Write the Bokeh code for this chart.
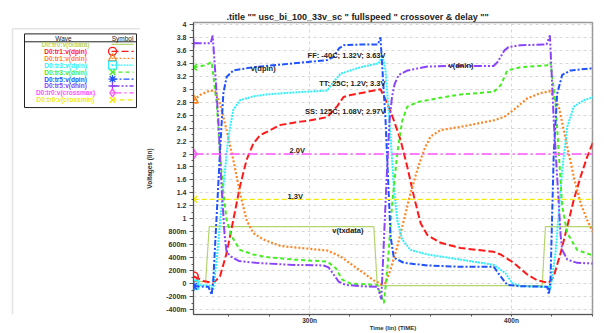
from bokeh.plotting import figure
from bokeh.models import FixedTicker, Range1d, Title
from bokeh.layouts import row
from bokeh.embed import file_html
from bokeh.resources import INLINE
from bokeh.core.properties import value

# ---------------- data (time in ns, voltage in V) ----------------
t_txdata = [242.6, 248.5, 250.3, 331.8, 333.5, 415.2, 416.8, 440.6]
v_txdata = [0.03, 0.03, 0.88, 0.88, -0.03, -0.03, 0.88, 0.88]

t_ss_dpin = [242.6, 247.4, 252.3, 255.6, 258.9, 262.2, 265.5, 268.8, 272.1, 275.4, 278.7, 285.6,
             295.5, 300.5, 308.8, 313.7, 316.8, 320.3, 328.6, 335.1, 338.5, 341.7, 345.0, 348.4,
             351.7, 355.0, 358.3, 364.9, 374.8, 391.2, 394.6, 401.1, 407.8, 412.7, 418.5, 420.9,
             424.3, 427.6, 430.8, 434.2, 437.5, 440.6]
v_ss_dpin = [0.11, 0.04, 0.01, 0.11, 0.47, 0.98, 1.50, 1.91, 2.16, 2.29, 2.34, 2.45,
             2.50, 2.52, 2.57, 2.74, 2.88, 2.91, 2.96, 3.00, 2.78, 2.52, 2.22, 1.80,
             1.34, 0.93, 0.75, 0.63, 0.55, 0.49, 0.45, 0.32, 0.14, 0.05, 0.01, 0.11,
             0.47, 0.88, 1.29, 1.65, 1.96, 2.20]

t_ss_dnin = [242.6, 245.7, 250.6, 253.2, 255.6, 258.9, 262.2, 265.5, 268.8, 272.1, 277.1, 285.6,
             295.5, 308.8, 315.3, 321.9, 326.9, 331.8, 335.6, 337.6, 340.1, 343.4, 346.7, 350.0,
             353.3, 356.6, 359.9, 364.9, 374.8, 391.2, 396.2, 401.1, 407.8, 414.4, 419.3, 423.4,
             427.6, 430.8, 434.2, 437.5, 440.6]
v_ss_dnin = [2.83, 2.91, 2.98, 2.97, 2.78, 2.37, 1.91, 1.40, 0.98, 0.78, 0.68, 0.58,
             0.55, 0.51, 0.42, 0.27, 0.16, 0.05, -0.01, 0.01, 0.22, 0.57, 0.98, 1.40,
             1.75, 2.06, 2.27, 2.37, 2.42, 2.52, 2.57, 2.68, 2.86, 2.94, 2.97, 2.73,
             2.11, 1.65, 1.24, 0.98, 0.78]

t_tt_dpin = [242.6, 250.6, 252.3, 254.0, 257.3, 259.8, 262.2, 265.5, 272.1, 278.7, 292.2, 308.8,
             311.2, 315.3, 325.2, 334.2, 336.1, 337.6, 340.1, 341.7, 343.4, 345.9, 350.0, 358.3,
             374.8, 391.2, 397.0, 400.3, 404.5, 418.5, 419.3, 421.8, 425.1, 427.6, 430.8, 435.8,
             440.6]
v_tt_dpin = [-0.02, -0.03, -0.09, 0.37, 1.50, 2.27, 2.68, 2.83, 2.89, 2.92, 2.95, 2.98,
             3.09, 3.24, 3.34, 3.40, 3.52, 3.29, 2.27, 1.50, 0.98, 0.68, 0.52, 0.45,
             0.37, 0.29, 0.16, 0.01, -0.04, -0.05, -0.09, 0.48, 1.75, 2.42, 2.73, 2.83,
             2.88]

t_tt_dnin = [242.6, 248.5, 251.5, 254.0, 255.6, 257.3, 258.9, 261.4, 265.5, 272.1, 278.7, 292.2,
             308.8, 312.9, 316.2, 320.3, 333.5, 336.8, 338.5, 340.9, 343.4, 345.9, 348.4, 353.3,
             363.2, 374.8, 391.2, 394.6, 397.9, 404.5, 417.7, 419.3, 421.8, 423.4, 425.1, 427.6,
             432.5, 440.6]
v_tt_dnin = [3.34, 3.37, 3.42, 2.78, 2.01, 1.40, 0.98, 0.73, 0.52, 0.45, 0.41, 0.37,
             0.34, 0.24, 0.06, 0.00, -0.02, -0.30, 0.22, 1.24, 2.01, 2.52, 2.73, 2.80,
             2.86, 2.92, 2.96, 3.06, 3.29, 3.34, 3.37, 3.42, 2.78, 2.01, 1.19, 0.78,
             0.52, 0.43]

t_ff_dpin = [242.6, 249.9, 251.5, 252.3, 255.6, 257.3, 258.9, 262.2, 272.1, 292.2, 308.8, 312.0,
             314.5, 317.0, 325.2, 333.8, 335.1, 337.6, 340.1, 341.7, 346.7, 358.3, 374.8, 391.2,
             394.6, 397.9, 404.5, 417.7, 418.5, 419.3, 420.9, 422.6, 425.1, 429.2, 439.1, 440.6]
v_ff_dpin = [-0.04, -0.05, -0.17, 0.06, 2.02, 2.94, 3.19, 3.29, 3.34, 3.40, 3.45, 3.50,
             3.63, 3.68, 3.69, 3.69, 3.80, 2.52, 0.73, 0.40, 0.32, 0.28, 0.26, 0.26,
             0.11, -0.02, -0.04, -0.05, -0.17, 0.06, 2.01, 2.93, 3.22, 3.29, 3.32, 3.32]

t_ff_dnin = [242.6, 251.0, 252.0, 253.2, 254.8, 256.4, 257.9, 258.9, 260.9, 264.9, 273.3, 290.6,
             306.9, 309.4, 311.9, 314.4, 317.8, 325.2, 333.7, 335.5, 336.6, 338.1, 339.6, 340.8,
             342.1, 344.1, 348.5, 358.4, 369.8, 391.1, 393.1, 394.6, 396.5, 398.5, 404.5, 417.3,
             419.0, 419.8, 420.9, 422.9, 424.3, 425.1, 427.6, 432.5, 440.6]
v_ff_dnin = [3.71, 3.71, 3.83, 3.29, 2.52, 1.49, 0.75, 0.49, 0.42, 0.35, 0.32, 0.29,
             0.28, 0.25, 0.14, 0.03, -0.02, -0.04, -0.05, -0.24, 0.52, 1.60, 2.52, 2.88,
             3.08, 3.22, 3.29, 3.35, 3.36, 3.36, 3.42, 3.50, 3.60, 3.65, 3.68, 3.69,
             3.83, 3.29, 2.52, 1.49, 0.75, 0.52, 0.37, 0.32, 0.31]

t_cross = [242.6, 440.6]
v_crossmax = [2.0, 2.0]
v_crossmin = [1.3, 1.3]

series_names = ["D0:tr0:v(txdata)", "D0:tr1:v(dpin)", "D0:tr1:v(dnin)", "D0:tr3:v(dpin)",
                "D0:tr3:v(dnin)", "D0:tr5:v(dpin)", "D0:tr5:v(dnin)", "D0:tr0:v(crossmax)",
                "D0:tr0:v(crossmin)"]
series_t = [t_txdata, t_ss_dpin, t_ss_dnin, t_tt_dpin, t_tt_dnin, t_ff_dpin, t_ff_dnin, t_cross, t_cross]
series_v = [v_txdata, v_ss_dpin, v_ss_dnin, v_tt_dpin, v_tt_dnin, v_ff_dpin, v_ff_dnin, v_crossmax, v_crossmin]

y_ticks = [-0.4, -0.2, 0.0, 0.2, 0.4, 0.6, 0.8, 1.0, 1.2, 1.4, 1.6, 1.8, 2.0, 2.2, 2.4, 2.6,
           2.8, 3.0, 3.2, 3.4, 3.6, 3.8, 4.0]
y_tick_labels = ["-400m", "-200m", "0", "200m", "400m", "600m", "800m", "1", "1.2", "1.4",
                 "1.6", "1.8", "2", "2.2", "2.4", "2.6", "2.8", "3", "3.2", "3.4", "3.6", "3.8", "4"]
y_minor = [-0.3, -0.1, 0.1, 0.3, 0.5, 0.7, 0.9, 1.1, 1.3, 1.5, 1.7, 1.9, 2.1, 2.3, 2.5, 2.7,
           2.9, 3.1, 3.3, 3.5, 3.7, 3.9]
x_ticks = [300, 400]
x_tick_labels = ["300n", "400n"]
x_minor = [260, 280, 320, 340, 360, 380, 420, 440]

notes = ["FF: -40C; 1.32V; 3.63V", "TT: 25C; 1.2V; 3.3V", "SS: 125C; 1.08V; 2.97V"]
notes_t = [337.6, 337.6, 337.6]
notes_v = [3.52, 3.09, 2.65]

labels = ["2.0V", "1.3V", "v(txdata)", "v(dpin)", "v(dnin)"]
labels_t = [290.1, 289.1, 311.2, 270.8, 368.8]
labels_v = [2.05, 1.35, 0.82, 3.32, 3.36]

# ---------------- styles ----------------
colors = ["#b4d46c", "#ff1a1a", "#ff8522", "#2ef0ff", "#44ee22", "#2052ff", "#8a44fa", "#ff55ff", "#f2ea00"]
dashes = ["solid", "7 3", "2 2", "2 1", "4 3", "6 2 2 2", "8 2 2 2 2 2", "10 3 2 3", "5 3"]
widths = [1.2, 2, 2.2, 2, 2, 2, 2, 1.3, 1.3]
markers = [None, "circle", "triangle", "square_dot", "x", "asterisk", "cross", "diamond", "x"]
FONT = "Liberation Sans"

# ---------------- main chart ----------------
p = figure(width=464, height=333, output_backend="svg", toolbar_location=None,
           x_range=Range1d(242.5, 440.1), y_range=Range1d(-0.477, 4.03),
           min_border_left=53, min_border_right=12, min_border_top=22, min_border_bottom=0)
p.title = Title(text='.title "" usc_bi_100_33v_sc " fullspeed " crossover & delay ""',
                align="left", offset=33, text_font_size="9px", text_font=FONT,
                text_font_style="bold", standoff=1, text_color="#222222")
p.outline_line_color = "#999999"
p.outline_line_width = 1.5
p.background_fill_color = "white"

for i in range(len(series_names)):
    p.line(series_t[i], series_v[i], line_color=colors[i], line_width=widths[i], line_dash=dashes[i])
    if markers[i] is not None:
        p.scatter([series_t[i][0]], [series_v[i][0]], marker=markers[i], size=9,
                  line_color=colors[i], fill_color=None, line_width=1.6)

p.text(notes_t, notes_v, text=notes, text_align="right", text_baseline="middle",
       text_font_size="7.5px", text_font=value(FONT), text_font_style="bold", text_color="#222222")
p.text(labels_t, labels_v, text=labels, text_align="left", text_baseline="middle",
       text_font_size="7.5px", text_font=value(FONT), text_font_style="bold", text_color="#222222")

p.yaxis.ticker = FixedTicker(ticks=y_ticks, minor_ticks=y_minor)
p.yaxis.major_label_overrides = {t: l for t, l in zip(y_ticks, y_tick_labels)}
p.xaxis.ticker = FixedTicker(ticks=x_ticks, minor_ticks=x_minor)
p.xaxis.major_label_overrides = {t: l for t, l in zip(x_ticks, x_tick_labels)}
p.yaxis.axis_label = "Voltages (lin)"
p.xaxis.axis_label = "Time (lin) (TIME)"
for ax in (p.xaxis, p.yaxis):
    ax.major_label_text_font_size = "7px"
    ax.major_label_text_font = FONT
    ax.major_label_text_font_style = "bold"
    ax.major_label_text_color = "#333333"
    ax.axis_label_text_font_size = "6.5px"
    ax.axis_label_text_font = FONT
    ax.axis_label_text_font_style = "bold"
    ax.axis_label_text_color = "#333333"
    ax.axis_line_color = "#555555"
    ax.major_tick_line_color = "#555555"
    ax.minor_tick_line_color = "#555555"
    ax.major_tick_in = 0
    ax.major_tick_out = 4
    ax.minor_tick_in = 0
    ax.minor_tick_out = 2
    ax.major_label_standoff = 3
p.yaxis.axis_label_standoff = 10
p.xaxis.major_label_text_font_size = "6.5px"
p.xaxis.axis_label_text_font_size = "6px"
p.xaxis.major_tick_out = 2
p.xaxis.minor_tick_out = 2
p.xaxis.axis_label_standoff = -2
p.xaxis.major_label_standoff = 0

p.grid.grid_line_color = "#d8d8d8"
p.grid.grid_line_dash = "3 3"
p.grid.grid_line_width = 1

# ---------------- legend panel ----------------
lp = figure(width=140, height=333, output_backend="svg", toolbar_location=None,
            x_range=Range1d(0, 140), y_range=Range1d(333, 0), min_border=0)
lp.axis.visible = False
lp.grid.visible = False
lp.outline_line_color = None
lp.segment(x0=[12, 12], y0=[7, 7], x1=[12, 140], y1=[333, 7], line_color="#e4e4e4", line_width=1.5)
lp.quad(left=[24], right=[136], top=[13], bottom=[97], fill_color=None, line_color="#222222", line_width=1)
lp.segment(x0=[24], y0=[22], x1=[136], y1=[22], line_color="#222222", line_width=1)
lp.text([63, 122], [18, 18], text=["Wave", "Symbol"], text_align="center", text_baseline="middle",
        text_font_size="6.5px", text_font=value(FONT), text_color="#222222")
row_y = [25 + 7.9 * i for i in range(len(series_names))]
lp.text([65] * len(series_names), row_y, text=series_names, text_color=colors,
        text_align="center", text_baseline="middle", text_font_size="6.5px",
        text_font=value(FONT), text_font_style="bold")
for i in range(len(series_names)):
    lp.segment(x0=[111], y0=[row_y[i]], x1=[133], y1=[row_y[i]], line_color=colors[i],
               line_width=1.3, line_dash=dashes[i])
    if markers[i] is not None:
        lp.scatter([112], [row_y[i]], marker=markers[i], size=8, line_color=colors[i],
                   fill_color=None, line_width=1.3)

layout = row(lp, p)
open("out.html", "w").write(file_html(layout, INLINE))
